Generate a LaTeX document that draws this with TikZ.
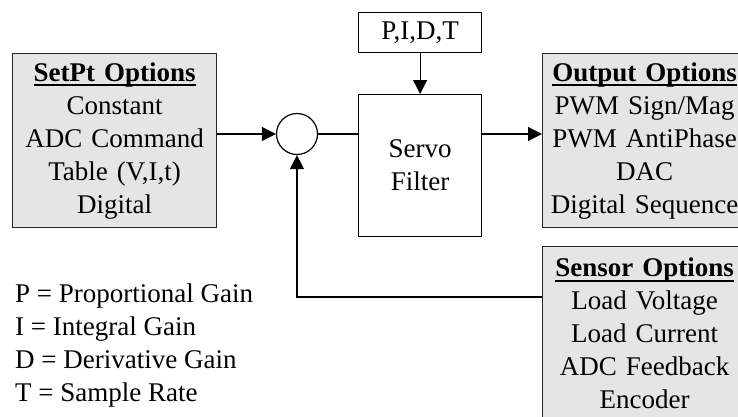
\documentclass[tikz,border=0pt]{standalone}
\usepackage{fontspec}
\setmainfont{Liberation Serif}
\usetikzlibrary{positioning,arrows.meta}
\tikzset{
	every node/.style={font=\fontsize{27}{33}\selectfont},
	optbox/.style={draw=black!85,line width=1.2pt,fill=gray!20,rectangle,
		text width=188pt,align=center,inner sep=8pt,minimum height=174pt,anchor=north west},
	blk/.style={draw,line width=1.2pt,rectangle,minimum width=123pt,align=center},
	sumpt/.style={draw,line width=1.2pt,circle,minimum size=41pt,inner sep=0pt},
	sig/.style={line width=1.2pt,-{Triangle[length=14pt,width=14pt]}}
}
\newcommand{\opttitle}[1]{\leavevmode\setbox0=\hbox{\textbf{#1}}\rlap{\rule[-5pt]{\wd0}{1.8pt}}\box0}

\begin{document}
\begin{tikzpicture}[x=1pt,y=-1pt]
\useasboundingbox (0,0) rectangle (738,416);

\node[optbox] (setpt) at (12,53) {\opttitle{SetPt Options}\\Constant\\ADC Command\\Table (V,I,t)\\Digital};
\node[optbox] (outopt) at (542,53) {\opttitle{Output Options}\\PWM Sign/Mag\\PWM AntiPhase\\DAC\\Digital Sequence};
\node[optbox] (sensopt) at (542,246) {\opttitle{Sensor Options}\\Load Voltage\\Load Current\\ADC Feedback\\Encoder};

\node[sumpt] (sum) at (297,134) {};
\node[blk,minimum height=142pt,anchor=north west] (servo) at (358,94) {Servo\\Filter};
\node[blk,minimum height=40pt,above=41pt of servo] (pidt) {P,I,D,T};

\node[align=left,anchor=north west,inner sep=0pt] (legend) at (15,284) {P = Proportional Gain\\I = Integral Gain\\D = Derivative Gain\\T = Sample Rate};

\draw[sig] (setpt.east |- sum) -- (sum.west);
\draw[line width=1.2pt] (sum.east) -- (servo.west |- sum);
\draw[sig] (servo.east |- sum) -- (outopt.west |- sum);
\draw[sig] (pidt) -- (servo);
\draw[sig] ([yshift=-51pt]sensopt.north west) -| (sum.south);

\end{tikzpicture}
\end{document}
